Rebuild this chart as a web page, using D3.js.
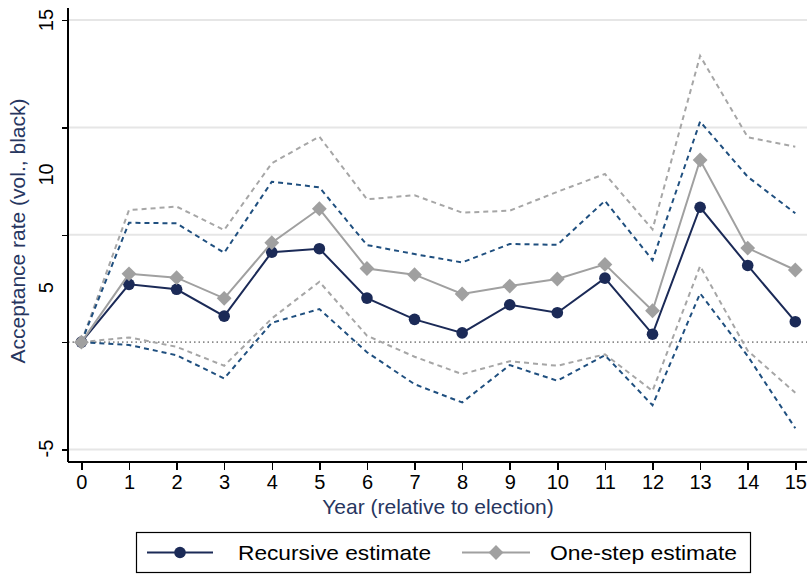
<!DOCTYPE html>
<html>
<head>
<meta charset="utf-8">
<title>Acceptance rate by year</title>
<script src="https://cdn.jsdelivr.net/npm/d3@7"></script>
<style>
  body { margin: 0; background: #fff; }
  text { font-family: "Liberation Sans", Arial, sans-serif; fill: #000; }
  .grid line { stroke: #e6e6e6; stroke-width: 2px; }
  .axis path, .axis line { stroke: #000; stroke-width: 1.5px; shape-rendering: crispEdges; }
  .title { fill: #27365f; }
</style>
</head>
<body>
<svg id="chart"></svg>
<script>
// years relative to election
var years = [0, 1, 2, 3, 4, 5, 6, 7, 8, 9, 10, 11, 12, 13, 14, 15];

// recursive estimate with its band
var recursive   = [0, 2.69, 2.46, 1.21, 4.19, 4.35, 2.05, 1.06, 0.43, 1.74, 1.37, 2.98, 0.37, 6.28, 3.57, 0.95];
var recursiveHi = [0, 5.56, 5.53, 4.16, 7.47, 7.21, 4.52, 4.10, 3.71, 4.57, 4.53, 6.58, 3.82, 10.27, 7.70, 6.00];
var recursiveLo = [0, -0.13, -0.61, -1.69, 0.90, 1.54, -0.47, -1.96, -2.81, -1.07, -1.80, -0.61, -2.94, 2.27, -0.65, -4.01];

// one-step estimate with its band
var oneStep   = [0, 3.18, 3.00, 2.04, 4.63, 6.21, 3.43, 3.14, 2.24, 2.61, 2.94, 3.62, 1.46, 8.48, 4.38, 3.36];
var oneStepHi = [0, 6.15, 6.31, 5.22, 8.33, 9.57, 6.65, 6.84, 6.03, 6.12, 7.00, 7.83, 5.25, 13.33, 9.54, 9.10];
var oneStepLo = [0, 0.22, -0.22, -1.10, 1.10, 2.81, 0.30, -0.68, -1.49, -0.89, -1.10, -0.57, -2.27, 3.54, -0.40, -2.36];

var yTicks = [-5, 5, 10, 15];
var yGrid = [-5, 5, 10, 15];
var seriesNames = ["Recursive estimate", "One-step estimate"];

var W = 807, H = 574;
var plot = {left: 68, right: 807, top: 8, bottom: 462};

var svg = d3.select("#chart").attr("width", W).attr("height", H);

var x = d3.scaleLinear().domain([0, 15]).range([81.4, 795.3]);
var y = d3.scaleLinear().domain([-5, 15]).range([449.5, 20]);

// gridlines
svg.append("g").attr("class", "grid")
  .selectAll("line").data(yGrid).enter().append("line")
  .attr("x1", plot.left).attr("x2", plot.right)
  .attr("y1", d => y(d)).attr("y2", d => y(d));

// zero reference
svg.append("line")
  .attr("x1", plot.left).attr("x2", plot.right)
  .attr("y1", y(0)).attr("y2", y(0))
  .style("stroke", "#8c8c8c").style("stroke-width", "1.6px")
  .style("stroke-dasharray", "1.5,3");

// y axis
var yAxis = svg.append("g").attr("class", "axis")
  .attr("transform", "translate(" + plot.left + ",0)")
  .call(d3.axisLeft(y).tickValues([-5, 0, 5, 10, 15]).tickSize(6).tickFormat(""));
yAxis.select(".domain").attr("d", "M0," + plot.top + "V" + plot.bottom);

// labels sit a bit lower than their ticks for 10 and 5, as in the source
var labelShift = {15: 0, 10: 47, 5: 53, "-5": -1};
svg.selectAll("text.ylab").data(yTicks).enter().append("text")
  .attr("class", "ylab")
  .attr("transform", d => "translate(53," + (y(d) + labelShift[d]) + ") rotate(-90)")
  .attr("text-anchor", "middle")
  .style("font-size", "20px")
  .text(d => d < 0 ? "-" + Math.abs(d) : d);

// x axis
var xAxis = svg.append("g").attr("class", "axis")
  .attr("transform", "translate(0," + plot.bottom + ")")
  .call(d3.axisBottom(x).tickValues(years).tickSize(8).tickPadding(5).tickFormat(d3.format("d")));
xAxis.select(".domain").attr("d", "M" + plot.left + ",0H" + plot.right);
xAxis.selectAll("text").style("font-size", "20px").style("font-family", "Liberation Sans, Arial, sans-serif").attr("fill", "#000");

svg.append("text").attr("class", "title")
  .attr("x", 438).attr("y", 514)
  .attr("text-anchor", "middle").style("font-size", "21px")
  .text("Year (relative to election)");

svg.append("text").attr("class", "title")
  .attr("transform", "translate(25,231) rotate(-90)")
  .attr("text-anchor", "middle").style("font-size", "21px")
  .text("Acceptance rate (vol., black)");

var line = d3.line().x((d, i) => x(years[i])).y(d => y(d));

function dashed(data, color) {
  svg.append("path").datum(data)
    .attr("d", line).attr("fill", "none")
    .style("stroke", color).style("stroke-width", "2px")
    .style("stroke-dasharray", "5,4");
}

dashed(oneStepHi, "#a6a6a6");
dashed(oneStepLo, "#a6a6a6");
dashed(recursiveHi, "#1f4f7f");
dashed(recursiveLo, "#1f4f7f");

// recursive estimate
svg.append("path").datum(recursive)
  .attr("d", line).attr("fill", "none")
  .style("stroke", "#1b2a57").style("stroke-width", "2px");
svg.selectAll("circle.rec").data(recursive).enter().append("circle")
  .attr("class", "rec")
  .attr("cx", (d, i) => x(years[i])).attr("cy", d => y(d))
  .attr("r", 5.8).style("fill", "#1b2a57");

// one-step estimate
var diamond = d3.symbol().type(d3.symbolDiamond2).size(140);
svg.append("path").datum(oneStep)
  .attr("d", line).attr("fill", "none")
  .style("stroke", "#a0a0a0").style("stroke-width", "2px");
svg.selectAll("path.one").data(oneStep).enter().append("path")
  .attr("class", "one")
  .attr("transform", (d, i) => "translate(" + x(years[i]) + "," + y(d) + ")")
  .attr("d", diamond).style("fill", "#a0a0a0");

// legend
var lg = svg.append("g");
lg.append("rect").attr("x", 136.5).attr("y", 532.5).attr("width", 614).attr("height", 40)
  .style("fill", "#fff").style("stroke", "#000").style("stroke-width", "1.2px");
var ly = 552.5;
lg.append("line").attr("x1", 147).attr("x2", 213).attr("y1", ly).attr("y2", ly)
  .style("stroke", "#1b2a57").style("stroke-width", "2px");
lg.append("circle").attr("cx", 180).attr("cy", ly).attr("r", 5.8).style("fill", "#1b2a57");
lg.append("text").attr("x", 238).attr("y", ly + 7).style("font-size", "21px")
  .attr("textLength", 193).attr("lengthAdjust", "spacingAndGlyphs").text(seriesNames[0]);
lg.append("line").attr("x1", 462).attr("x2", 530).attr("y1", ly).attr("y2", ly)
  .style("stroke", "#a0a0a0").style("stroke-width", "2px");
lg.append("path").attr("transform", "translate(496," + ly + ")").attr("d", diamond).style("fill", "#a0a0a0");
lg.append("text").attr("x", 550).attr("y", ly + 7).style("font-size", "21px")
  .attr("textLength", 187).attr("lengthAdjust", "spacingAndGlyphs").text(seriesNames[1]);
</script>
</body>
</html>
